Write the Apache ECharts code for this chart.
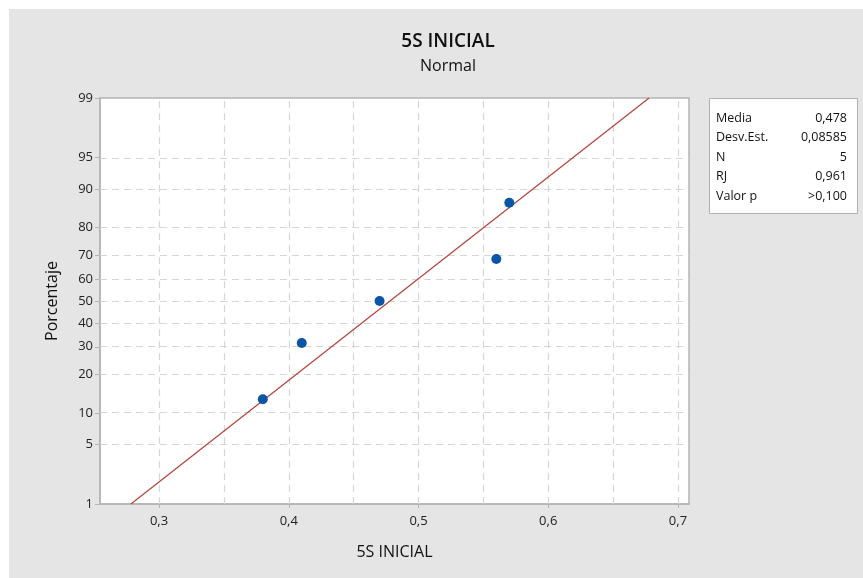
<!DOCTYPE html>
<html><head><meta charset="utf-8">
<script src="https://cdn.jsdelivr.net/npm/echarts@6/dist/echarts.min.js"></script>
<style>html,body{margin:0;padding:0;background:#fff}#c{width:863px;height:578px}</style>
</head><body><div id="c"></div>
<script>
// ---- data ----
const xValues = [0.38, 0.41, 0.47, 0.56, 0.57];
const pctValues = [13, 31.5, 50, 68.5, 87];
const fitX = [0.2783, 0.6777];
const fitP = [1, 99];
const yTickPct = [1, 5, 10, 20, 30, 40, 50, 60, 70, 80, 90, 95, 99];
const xTickLabels = [0.3, 0.4, 0.5, 0.6, 0.7];
const xGrid = [0.3, 0.35, 0.4, 0.45, 0.5, 0.55, 0.6, 0.65, 0.7];
const statNames = ['Media', 'Desv.Est.', 'N', 'RJ', 'Valor p'];
const statValues = ['0,478', '0,08585', '5', '0,961', '>0,100'];

// inverse normal CDF (Acklam) - probability scale transform
function qnorm(p){
  const a=[-3.969683028665376e+01,2.209460984245205e+02,-2.759285104469687e+02,1.383577518672690e+02,-3.066479806614716e+01,2.506628277459239e+00];
  const b=[-5.447609879822406e+01,1.615858368580409e+02,-1.556989798598866e+02,6.680131188771972e+01,-1.328068155288572e+01];
  const c=[-7.784894002430293e-03,-3.223964580411365e-01,-2.400758277161838e+00,-2.549732539343734e+00,4.374664141464968e+00,2.938163982698783e+00];
  const d=[7.784695709041462e-03,3.224671290700398e-01,2.445134137142996e+00,3.754408661907416e+00];
  const pl=0.02425, ph=1-pl; let q,r;
  if(p<pl){q=Math.sqrt(-2*Math.log(p));return (((((c[0]*q+c[1])*q+c[2])*q+c[3])*q+c[4])*q+c[5])/((((d[0]*q+d[1])*q+d[2])*q+d[3])*q+1);}
  if(p<=ph){q=p-0.5;r=q*q;return (((((a[0]*r+a[1])*r+a[2])*r+a[3])*r+a[4])*r+a[5])*q/(((((b[0]*r+b[1])*r+b[2])*r+b[3])*r+b[4])*r+1);}
  q=Math.sqrt(-2*Math.log(1-p));return -(((((c[0]*q+c[1])*q+c[2])*q+c[3])*q+c[4])*q+c[5])/((((d[0]*q+d[1])*q+d[2])*q+d[3])*q+1);
}
const zOf = p => qnorm(p/100);
const yTickZ = yTickPct.map(zOf);
const yMin = zOf(1), yMax = zOf(99);
const FONT = '"Open Sans", "Noto Sans", sans-serif';
const gridColor = '#d6d6d6';

const chart = echarts.init(document.getElementById('c'), null, {renderer:'canvas'});

const gridLineData = [];
xGrid.forEach(v => gridLineData.push({xAxis: v}));
yTickZ.forEach(v => gridLineData.push({yAxis: v}));

const boxG = [];
boxG.push({type:'rect', z:-10, shape:{x:9,y:9,width:854,height:569}, style:{fill:'#e5e5e5'}, silent:true});
boxG.push({type:'rect', shape:{x:709.5,y:98.5,width:148,height:115}, style:{fill:'#fff', stroke:'#b0b0b0', lineWidth:1}, silent:true});
statNames.forEach((n,i)=>{
  boxG.push({type:'text', style:{x:716, y:118+i*19.5, text:n, fill:'#111', font:'12.5px '+FONT, textVerticalAlign:'middle'}, silent:true});
  boxG.push({type:'text', style:{x:847, y:118+i*19.5, text:statValues[i], fill:'#111', font:'12.5px '+FONT, textAlign:'right', textVerticalAlign:'middle'}, silent:true});
});

chart.setOption({
  animation:false,
  backgroundColor:'transparent',
  textStyle:{fontFamily:FONT},
  title:{
    text:'5S INICIAL', subtext:'Normal', left:443, top:27, textAlign:'center',
    textStyle:{fontSize:19, fontWeight:600, color:'#111', fontFamily:FONT},
    subtextStyle:{fontSize:16, color:'#111', fontFamily:FONT}, itemGap:7
  },
  graphic: boxG,
  grid:{left:100, top:98, width:589, height:406, show:true, backgroundColor:'#fff', borderColor:'#b4b4b4', borderWidth:1.5},
  xAxis:{
    type:'value', min:0.2545, max:0.7085,
    name:'5S INICIAL', nameLocation:'middle', nameGap:40,
    nameTextStyle:{fontSize:16, color:'#111', fontFamily:FONT},
    axisLine:{show:true, onZero:false, lineStyle:{color:'#b4b4b4', width:1.5}},
    axisTick:{show:true, length:4, lineStyle:{color:'#b4b4b4'}, customValues:xTickLabels},
    axisLabel:{customValues:xTickLabels, color:'#222', fontSize:13, margin:11, formatter:v=>v.toFixed(1).replace('.',',')},
    splitLine:{show:false}
  },
  yAxis:{
    type:'value', min:yMin, max:yMax,
    name:'Porcentaje', nameLocation:'middle', nameGap:40, nameRotate:90,
    nameTextStyle:{fontSize:16, color:'#111', fontFamily:FONT},
    axisLine:{show:true, onZero:false, lineStyle:{color:'#b4b4b4', width:1.5}},
    axisTick:{show:true, length:5, lineStyle:{color:'#b4b4b4'}, customValues:yTickZ},
    axisLabel:{customValues:yTickZ, color:'#222', fontSize:13, margin:7,
      formatter:v=>{let best=yTickPct[0],bd=1e9;yTickPct.forEach((p,i)=>{const d=Math.abs(yTickZ[i]-v);if(d<bd){bd=d;best=p;}});return String(best);}},
    splitLine:{show:false}
  },
  series:[
    {type:'line', data:[], silent:true, z:1,
      markLine:{silent:true, z:1, symbol:['none','none'], label:{show:false}, animation:false,
        lineStyle:{color:gridColor, type:[7,5], width:1.2}, data:gridLineData}},
    {type:'line', data:fitX.map((x,i)=>[x, zOf(fitP[i])]), showSymbol:false, symbol:'none', z:3,
      lineStyle:{color:'#b5473f', width:1.3}},
    {type:'scatter', data:xValues.map((x,i)=>[x, zOf(pctValues[i])]), symbolSize:10, z:4,
      itemStyle:{color:'#0a55a5', opacity:1}}
  ]
});
</script>
</body></html>
